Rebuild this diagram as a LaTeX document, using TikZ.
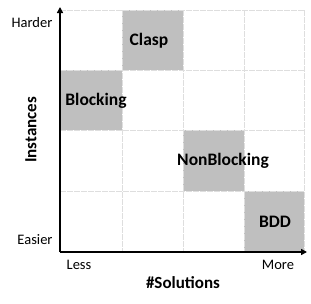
\documentclass[tikz,border=0pt]{standalone}
\usepackage{fontspec}
\setmainfont{Carlito}
\usetikzlibrary{arrows.meta}
\definecolor{cellgray}{RGB}{191,191,191}
\definecolor{gridgray}{RGB}{222,222,222}
\tikzset{
  cell/.style={fill=cellgray,draw=none},
  gridline/.style={draw=gridgray,line width=0.8pt,dash pattern=on 6pt off 1pt},
  axis/.style={line width=1.8pt,-{Triangle[length=6pt,width=6pt]}},
  lab/.style={font=\fontsize{17.5}{20}\selectfont\bfseries,inner sep=0pt},
  tick/.style={font=\fontsize{14.5}{16}\selectfont,inner sep=0pt},
  title/.style={font=\fontsize{17}{19}\selectfont\bfseries,inner sep=0pt}
}
\begin{document}
\begin{tikzpicture}[x=1pt,y=-1pt]
\useasboundingbox (0,0) rectangle (311,303);
% gray cells
\fill[cell] (122,10) rectangle (183,70);
\fill[cell] (60,70) rectangle (122,130);
\fill[cell] (183,130) rectangle (244,191);
\fill[cell] (244,191) rectangle (304,252);
% grid
\foreach \x in {122,183,244,304} \draw[gridline] (\x,10) -- (\x,252);
\foreach \y in {10,70,130,191} \draw[gridline] (60,\y) -- (304,\y);
% axes
\coordinate (o) at (60,252);
\coordinate (ytip) at (60,7);
\coordinate (xtip) at (307,252);
\draw[axis] (o) -- (ytip);
\draw[axis] (o) -- (xtip);
% cell labels
\node[lab] (clasp) at (149,41) {Clasp};
\node[lab] (blocking) at (96,101) {Blocking};
\node[lab] (nonblocking) at (223,161) {NonBlocking};
\node[lab] (bdd) at (275,222) {BDD};
% tick labels
\node[tick] (harder) at (32,23) {Harder};
\node[tick] (easier) at (35,240) {Easier};
\node[tick] (less) at (79,265) {Less};
\node[tick] (more) at (278,265) {More};
% axis titles
\node[title] (sol) at (183,283) {\#Solutions};
\node[title,rotate=90] (inst) at (31,130) {Instances};
\end{tikzpicture}
\end{document}
